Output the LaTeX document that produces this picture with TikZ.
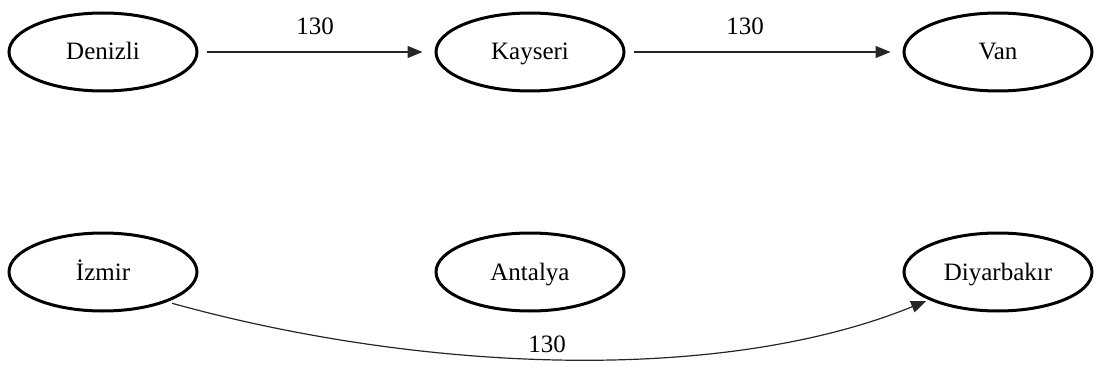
\documentclass[tikz,border=0pt]{standalone}
\usepackage{fontspec}
\setmainfont{Liberation Serif}
\usetikzlibrary{shapes.geometric,arrows.meta}
\begin{document}
\begin{tikzpicture}[x=1pt,y=-1pt,
  city/.style={ellipse,draw=black,line width=3pt,minimum width=188pt,minimum height=78pt,
    inner sep=0pt,text height=20pt,text depth=4pt,font=\fontsize{25}{28}\selectfont},
  link/.style={draw=black!85,line width=1.2pt,-{Triangle[length=15pt,width=12pt]}},
  weight/.style={font=\fontsize{25}{28}\selectfont}]
\useasboundingbox (0,0) rectangle (1101,369);
% top row
\node[city] (den) at (103,52) {Denizli};
\node[city] (kay) at (530,52) {Kayseri};
\node[city] (van) at (998,52) {Van};
% bottom row
\node[city] (izm) at (103,272) {İzmir};
\node[city] (ant) at (530,272) {Antalya};
\node[city] (diy) at (998,272) {Diyarbakır};
% direct connections
\draw[link,shorten <=8pt,shorten >=12pt] (den.east) -- (kay.west);
\draw[link,shorten <=8pt,shorten >=12pt] (kay.east) -- (van.west);
\node[weight] (w1) at (315,26) {130};
\node[weight] (w2) at (745,26) {130};
% curved connection below
\draw[link,shorten <=5pt,shorten >=3pt] (izm.-25) .. controls (420,372) and (720,385) .. (diy.-158);
\node[weight] (w3) at (547,344) {130};
\end{tikzpicture}
\end{document}
